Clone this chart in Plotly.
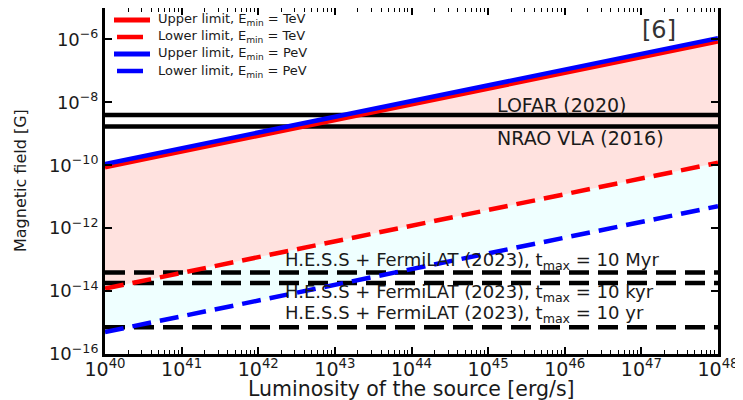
import plotly.graph_objects as go

# Data
luminosity = [1e40, 1e48]                 # erg/s, line endpoints
upper_tev = [8.5e-11, 8.5e-7]
lower_tev = [1.2e-14, 1.2e-10]
upper_pev = [1.1e-10, 1.1e-6]
lower_pev = [5.0e-16, 5.0e-12]

series_names = ["Upper limit, E<sub>min</sub> = TeV", "Lower limit, E<sub>min</sub> = TeV",
                "Upper limit, E<sub>min</sub> = PeV", "Lower limit, E<sub>min</sub> = PeV"]

radio_names = ["LOFAR (2020)", "NRAO VLA (2016)"]
radio_limits = [4.0e-9, 1.7e-9]

gamma_names = ["H.E.S.S + FermiLAT (2023), t<sub>max</sub> = 10 Myr",
               "H.E.S.S + FermiLAT (2023), t<sub>max</sub> = 10 kyr",
               "H.E.S.S + FermiLAT (2023), t<sub>max</sub> = 10 yr"]
gamma_limits = [3.9e-14, 1.8e-14, 7.1e-16]

x_ticks = [1e40, 1e41, 1e42, 1e43, 1e44, 1e45, 1e46, 1e47, 1e48]
x_ticklabels = ["10<sup>40</sup>", "10<sup>41</sup>", "10<sup>42</sup>", "10<sup>43</sup>",
                "10<sup>44</sup>", "10<sup>45</sup>", "10<sup>46</sup>", "10<sup>47</sup>",
                "10<sup>48</sup>"]
y_ticks = [1e-16, 1e-14, 1e-12, 1e-10, 1e-8, 1e-6]
y_ticklabels = ["10<sup>\u221216</sup>", "10<sup>\u221214</sup>", "10<sup>\u221212</sup>",
                "10<sup>\u221210</sup>", "10<sup>\u22128</sup>", "10<sup>\u22126</sup>"]
x_range = [1e40, 1e48]

FONT = "DejaVu Sans"
TXT = "#1a1a1a"
fig = go.Figure()

# fills
fig.add_trace(go.Scatter(x=luminosity, y=lower_pev, mode="lines", line=dict(width=0),
                         showlegend=False, hoverinfo="skip"))
fig.add_trace(go.Scatter(x=luminosity, y=lower_tev, mode="lines", line=dict(width=0),
                         fill="tonexty", fillcolor="#EFFFFF", showlegend=False, hoverinfo="skip"))
fig.add_trace(go.Scatter(x=luminosity, y=upper_tev, mode="lines", line=dict(width=0),
                         fill="tonexty", fillcolor="#FFE2DF", showlegend=False, hoverinfo="skip"))

# horizontal limits
for v in radio_limits:
    fig.add_trace(go.Scatter(x=x_range, y=[v, v], mode="lines",
                             line=dict(color="black", width=4.5), showlegend=False))
for v in gamma_limits:
    fig.add_trace(go.Scatter(x=x_range, y=[v, v], mode="lines",
                             line=dict(color="black", width=4.5, dash="20px,9px"), showlegend=False))

# model lines
styles = [dict(color="red", width=4), dict(color="red", width=4.5, dash="19px,9px"),
          dict(color="blue", width=4.5), dict(color="blue", width=4.5, dash="19px,9px")]
for name, ys, st in zip(series_names, [upper_tev, lower_tev, upper_pev, lower_pev], styles):
    fig.add_trace(go.Scatter(x=luminosity, y=ys, mode="lines", name=name, line=st,
                             showlegend=False))

# plot-area pixel helpers (plot area: x 105..718, y 8..354 in the window)
def px(x):
    return (x - 105) / 613.0

def py(y):
    return (354 - y) / 346.0

annotations = []
shapes = []
# manual legend (compact, like the reference)
leg_rows = [20, 37, 54, 71]
leg_colors = ["red", "red", "blue", "blue"]
leg_solid = [True, False, True, False]
for name, row, col, solid in zip(series_names, leg_rows, leg_colors, leg_solid):
    x0, x1 = (114, 150) if solid else (117, 143)
    shapes.append(dict(type="line", xref="paper", yref="paper", x0=px(x0), x1=px(x1),
                       y0=py(row), y1=py(row), line=dict(color=col, width=5 if solid else 4.5)))
    annotations.append(dict(x=px(156), y=py(row), xref="paper", yref="paper", text=name,
                            xanchor="left", yanchor="middle", showarrow=False,
                            font=dict(size=13, color=TXT, family=FONT)))

annotations.append(dict(x=px(659), y=py(30), xref="paper", yref="paper", text="[6]",
                        xanchor="center", yanchor="middle",
                        showarrow=False, font=dict(size=24, color="#333333", family=FONT)))
for name, yy in zip(radio_names, [105, 138]):
    annotations.append(dict(x=px(495), y=py(yy), xref="paper", yref="paper", text=name,
                            xanchor="left", yanchor="middle", showarrow=False,
                            font=dict(size=19, color=TXT, family=FONT)))
for name, yy in zip(gamma_names, [261, 293, 314]):
    annotations.append(dict(x=px(283), y=py(yy), xref="paper", yref="paper", text=name,
                            xanchor="left", yanchor="middle", showarrow=False,
                            font=dict(size=18, color=TXT, family=FONT)))
# axis titles
annotations.append(dict(x=0.5, y=py(389), xref="paper", yref="paper",
                        text="Luminosity of the source [erg/s]", xanchor="center", yanchor="middle",
                        showarrow=False, font=dict(size=20.5, color=TXT, family=FONT)))
annotations.append(dict(x=px(20), y=0.5, xref="paper", yref="paper", textangle=-90,
                        text="Magnetic field [G]", xanchor="center", yanchor="middle",
                        showarrow=False, font=dict(size=16, color=TXT, family=FONT)))

fig.update_layout(
    width=735, height=392,
    margin=dict(l=97, r=25, t=0, b=46),
    plot_bgcolor="white", paper_bgcolor="white",
    font=dict(family=FONT, color="black"),
    annotations=annotations,
    shapes=shapes,
    showlegend=False,
)
fig.update_xaxes(type="log", range=[40, 48], tickvals=x_ticks, ticktext=x_ticklabels,
                 automargin=False, ticklabeloverflow="allow", ticklabelstandoff=-4,
                 showgrid=False, zeroline=False,
                 showline=True, linewidth=3, linecolor="black", mirror="ticks",
                 ticks="inside", ticklen=7, tickwidth=1.5, tickcolor="black",
                 minor=dict(ticks="inside", ticklen=4, tickwidth=1, tickcolor="black", dtick="D1", showgrid=False),
                 tickfont=dict(size=19, family=FONT, color=TXT))
fig.update_yaxes(type="log", range=[-16, -5], tickvals=y_ticks, ticktext=y_ticklabels,
                 automargin=False, ticklabeloverflow="allow",
                 showgrid=False, zeroline=False,
                 showline=True, linewidth=3, linecolor="black", mirror="ticks",
                 ticks="inside", ticklen=7, tickwidth=1.5, tickcolor="black",
                 tickfont=dict(size=18, family=FONT, color=TXT))

fig.write_html("out.html")
